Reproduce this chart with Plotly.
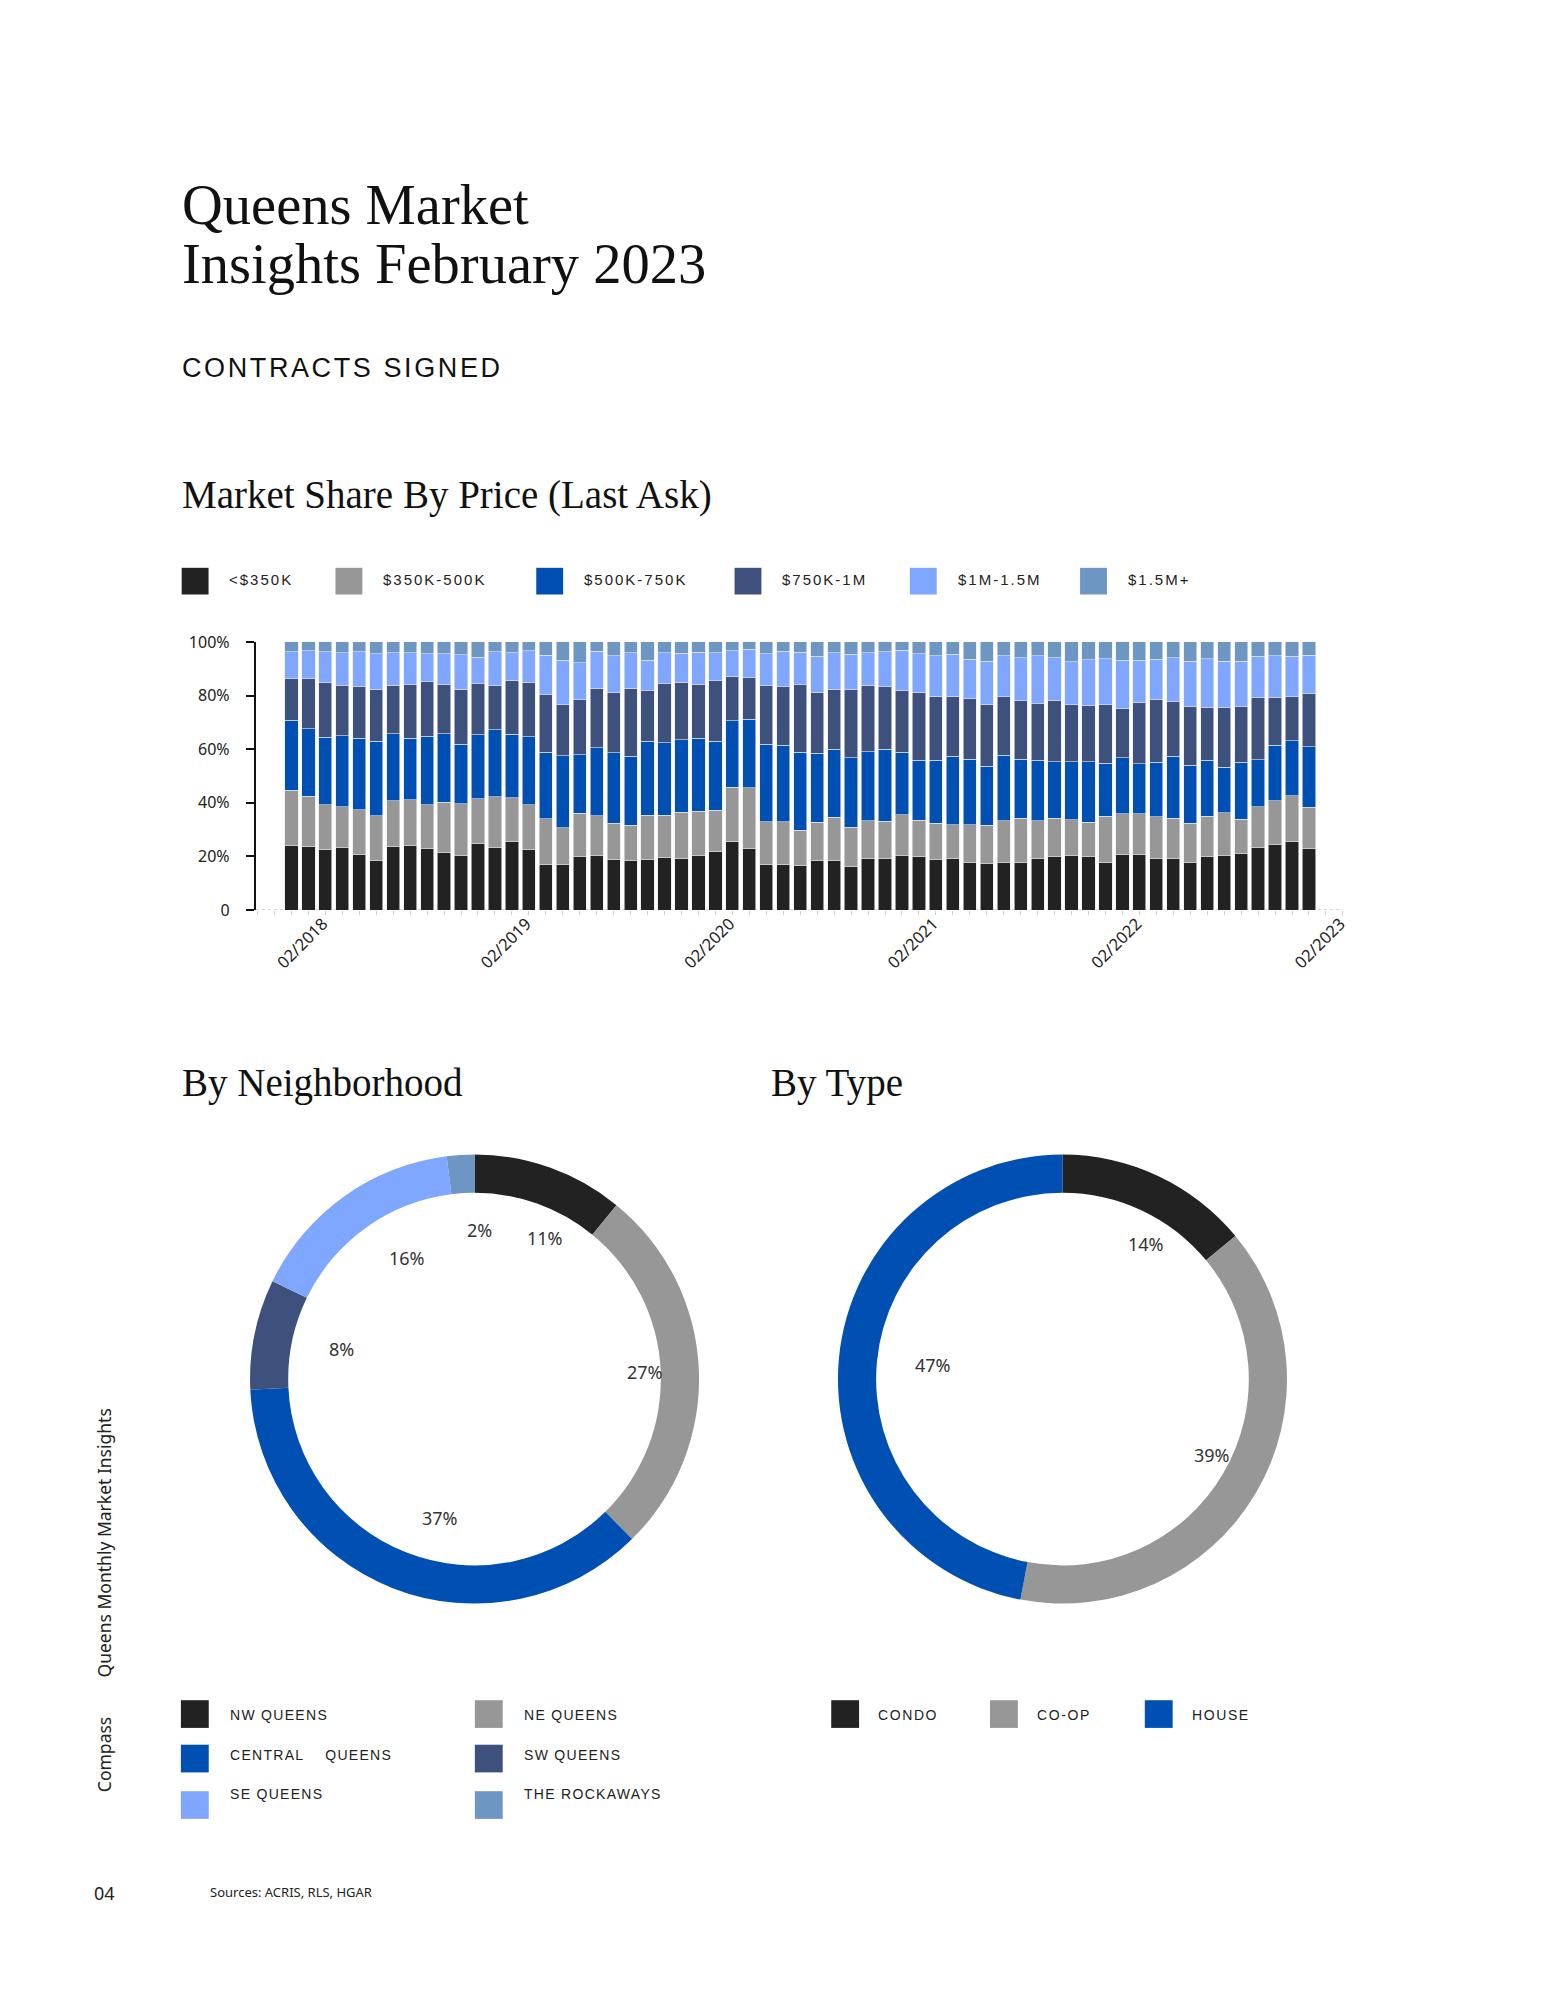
import math
import plotly.graph_objects as go

# ---------------- DATA ----------------
price_labels = ["<$350K", "$350K-500K", "$500K-750K", "$750K-1M", "$1M-1.5M", "$1.5M+"]
price_colors = ["#222222", "#979797", "#004fb3", "#3e517c", "#7fa7ff", "#6d96c3"]

# Monthly share (%) Feb 2018 .. Feb 2023 (61 months)
under_350k = [24.1, 23.8, 22.6, 23.3, 20.8, 18.3, 23.8, 24.1, 23.0, 21.5, 20.4, 24.9, 23.3, 25.6, 22.6,
              17.1, 17.1, 19.8, 20.4, 18.7, 18.3, 18.8, 19.7, 19.1, 20.5, 22.0, 25.6, 23.0, 16.8, 17.0,
              16.6, 18.3, 18.6, 16.2, 19.1, 19.4, 20.2, 19.8, 18.7, 19.1, 17.6, 17.3, 17.9, 17.9, 19.4,
              20.0, 20.5, 19.8, 17.8, 20.8, 20.8, 19.1, 19.1, 17.8, 19.8, 20.5, 21.0, 23.4, 24.3, 25.4, 22.8]
k350_500 = [20.5, 18.7, 16.6, 15.3, 16.6, 16.8, 16.9, 17.1, 16.2, 18.7, 19.3, 16.6, 19.0, 16.2, 16.6,
            16.9, 13.6, 16.3, 14.7, 13.6, 13.3, 16.5, 15.7, 17.3, 16.3, 15.3, 20.2, 22.7, 16.2, 16.0,
            13.2, 14.4, 16.1, 14.7, 14.2, 13.8, 15.3, 13.6, 13.7, 12.8, 14.3, 14.3, 15.4, 16.3, 13.9,
            14.2, 13.2, 13.0, 17.1, 15.2, 15.2, 15.7, 15.1, 14.5, 15.1, 15.8, 12.8, 15.1, 16.5, 17.3, 15.6]
k500_750 = [26.2, 25.1, 25.2, 26.5, 26.6, 27.8, 25.1, 22.8, 25.7, 25.5, 22.2, 23.8, 24.9, 23.7, 25.5,
            24.8, 26.8, 21.9, 25.5, 26.4, 25.8, 27.6, 27.0, 27.2, 27.3, 25.7, 24.9, 25.5, 28.8, 28.5,
            29.0, 25.7, 25.2, 26.0, 25.7, 26.7, 23.4, 22.4, 23.4, 25.5, 24.3, 22.0, 24.4, 22.0, 22.6,
            21.2, 21.7, 22.6, 19.9, 20.9, 18.5, 20.3, 23.1, 21.7, 20.9, 17.0, 21.4, 17.6, 20.7, 20.5, 22.6]
k750_1m = [15.5, 18.9, 20.4, 18.8, 19.4, 19.5, 18.0, 20.0, 20.2, 18.3, 20.5, 19.1, 16.5, 20.3, 20.3,
           21.6, 19.1, 20.5, 22.2, 22.6, 25.3, 18.9, 22.0, 21.4, 20.1, 22.5, 16.3, 15.4, 21.9, 21.8,
           25.2, 22.9, 22.5, 25.2, 24.9, 23.4, 22.9, 25.4, 23.9, 22.4, 22.6, 23.1, 21.8, 21.9, 21.1,
           22.9, 21.1, 20.8, 21.8, 18.2, 23.0, 23.6, 20.4, 22.1, 19.9, 22.1, 20.7, 23.1, 17.8, 16.4, 19.9]
m1_15 = [10.1, 10.3, 11.6, 12.1, 13.0, 13.3, 12.2, 12.0, 10.6, 11.7, 12.9, 9.9, 12.7, 10.2, 11.8,
         14.6, 16.5, 13.8, 13.7, 13.5, 13.3, 11.3, 11.5, 10.8, 12.0, 10.5, 9.8, 10.7, 12.0, 13.2,
         12.2, 13.4, 13.5, 13.3, 12.0, 13.1, 15.1, 14.5, 15.1, 15.6, 14.8, 16.1, 15.3, 16.1, 17.9,
         15.9, 16.2, 17.2, 17.2, 18.0, 15.6, 14.9, 16.5, 16.7, 18.1, 17.4, 16.9, 15.5, 15.6, 15.0, 14.1]
m15_plus = [3.6, 3.2, 3.6, 4.0, 3.6, 4.3, 4.0, 4.0, 4.3, 4.3, 4.7, 5.7, 3.6, 4.0, 3.2,
            5.0, 6.9, 7.7, 3.5, 5.2, 4.0, 6.9, 4.1, 4.2, 3.8, 4.0, 3.2, 2.7, 4.3, 3.5,
            3.8, 5.3, 4.1, 4.6, 4.1, 3.6, 3.1, 4.3, 5.2, 4.6, 6.4, 7.2, 5.2, 5.8, 5.1,
            5.8, 7.3, 6.6, 6.2, 6.9, 6.9, 6.4, 5.8, 7.2, 6.2, 7.2, 7.2, 5.3, 5.1, 5.4, 5.0]
price_series = [under_350k, k350_500, k500_750, k750_1m, m1_15, m15_plus]

x_tick_labels = ["02/2018", "02/2019", "02/2020", "02/2021", "02/2022", "02/2023"]
y_tick_vals = [0, 20, 40, 60, 80, 100]
y_tick_text = ["0", "20%", "40%", "60%", "80%", "100%"]

hood_labels = ["NW QUEENS", "NE QUEENS", "CENTRAL QUEENS", "SW QUEENS", "SE QUEENS", "THE ROCKAWAYS"]
hood_values = [11, 27, 37, 8, 16, 2]
hood_colors = ["#222222", "#979797", "#004fb3", "#3e517c", "#7fa7ff", "#6d96c3"]

type_labels = ["CONDO", "CO-OP", "HOUSE"]
type_values = [14, 39, 47]
type_colors = ["#222222", "#979797", "#004fb3"]

# ---------------- LAYOUT HELPERS ----------------
W, H = 1545, 2000
def px(x):
    return x / W
def py(y):
    return 1 - y / H

SERIF = "Liberation Serif, Times New Roman, serif"
SANS = "Noto Sans, Open Sans, DejaVu Sans, sans-serif"
LSANS = "Liberation Sans, Arial, sans-serif"

fig = go.Figure()

n = len(under_350k)
months = list(range(n))
for name, vals, col in zip(price_labels, price_series, price_colors):
    fig.add_trace(go.Bar(x=months, y=vals, name=name,
                         marker=dict(color=col, line=dict(color="#e8e8e8", width=0.6)),
                         showlegend=False, xaxis="x", yaxis="y"))

# donuts
d1 = (476.7, 1383.3)
d2 = (1067.3, 1383.3)
R = 227
for (cx, cy), labels, vals, cols in [(d1, hood_labels, hood_values, hood_colors),
                                     (d2, type_labels, type_values, type_colors)]:
    fig.add_trace(go.Pie(labels=labels, values=vals, marker=dict(colors=cols, line=dict(width=0)),
                         hole=0.83, sort=False, direction="clockwise", rotation=0,
                         textinfo="none", showlegend=False,
                         domain=dict(x=[px(cx - R), px(cx + R)], y=[py(cy + R), py(cy - R)])))

annotations = []
shapes = []

def text(x, y, s, size, family, color="#111111", xanchor="left", spacing=None, angle=0):
    if spacing is not None:
        s = '<span style="letter-spacing:%spx">%s</span>' % (spacing, s)
    annotations.append(dict(x=px(x), y=py(y), xref="paper", yref="paper", text=s, showarrow=False,
                            xanchor=xanchor, yanchor="middle", textangle=angle,
                            font=dict(size=size, family=family, color=color)))

# titles
text(181, 196, "Queens Market", 56.5, SERIF)
text(181, 256, "Insights February 2023", 56.5, SERIF)
text(181, 361, "CONTRACTS SIGNED", 27, LSANS, spacing=2.6)
text(181, 489, "Market Share By Price (Last Ask)", 39, SERIF)
text(181, 1084, "By Neighborhood", 39, SERIF)
text(772, 1084, "By Type", 39, SERIF)

# price legend
leg_sq_x = [182.5, 337, 538.7, 737.9, 914, 1085]
for i, (lab, col) in enumerate(zip(price_labels, price_colors)):
    x0 = leg_sq_x[i]
    shapes.append(dict(type="rect", xref="paper", yref="paper", x0=px(x0), x1=px(x0 + 27),
                       y0=py(590), y1=py(563), fillcolor=col, line=dict(width=0)))
    text(x0 + 46, 575, lab, 15, LSANS, color="#222222", spacing=2)

# donut labels, left-anchored inside the hole at each slice's mid-angle
for (cx, cy), vals in [(d1, hood_values), (d2, type_values)]:
    tot = sum(vals)
    cum = 0
    for v in vals:
        mid = (cum + v / 2) / tot * 2 * math.pi
        cum += v
        r = 0.665 * R
        text(cx + r * math.sin(mid), cy - r * math.cos(mid), "%d%%" % v, 18, SANS, color="#333333")

# neighbourhood legend
hood_pos = [(181.7, 1708, 1723), (477, 1708, 1723), (181.7, 1753, 1763),
            (477, 1753, 1763), (181.7, 1800, 1803), (477, 1800, 1803)]
for (x0, y0, ty), i in zip(hood_pos, range(len(hood_labels))):
    shapes.append(dict(type="rect", xref="paper", yref="paper", x0=px(x0), x1=px(x0 + 28),
                       y0=py(y0 + 28), y1=py(y0), fillcolor=hood_colors[i], line=dict(width=0)))
    lab = hood_labels[i].replace("CENTRAL QUEENS", "CENTRAL\u00a0\u00a0\u00a0 QUEENS")
    text(x0 + 47, ty, lab, 14, LSANS, color="#222222", spacing=1.3)

# type legend
type_sq_x = [835, 994.5, 1150]
for x0, lab, col in zip(type_sq_x, type_labels, type_colors):
    shapes.append(dict(type="rect", xref="paper", yref="paper", x0=px(x0), x1=px(x0 + 28),
                       y0=py(1736), y1=py(1708), fillcolor=col, line=dict(width=0)))
    text(x0 + 45, 1723, lab, 14, LSANS, color="#222222", spacing=1.6)

# side / footer text
text(104, 1549, "Queens Monthly Market Insights", 17.5, SANS, color="#222222", xanchor="center", angle=-90)
text(104, 1763, "Compass", 17.5, SANS, color="#222222", xanchor="center", angle=-90)
text(92, 1903, "04", 18, SANS, color="#222222")
text(209, 1902, "Sources: ACRIS, RLS, HGAR", 13, SANS, color="#222222")

# dotted baseline of bar chart
shapes.append(dict(type="line", xref="x domain", yref="y", x0=0, x1=1, y0=0, y1=0,
                   line=dict(color="#c8c8c8", width=1.5, dash="dot"), layer="below"))

fig.update_layout(
    width=W, height=H, margin=dict(l=0, r=0, t=0, b=0),
    paper_bgcolor="white", plot_bgcolor="white",
    barmode="stack", bargap=0.22,
    xaxis=dict(domain=[px(257), px(1349)], range=[-2.1, 62.0], showgrid=False, zeroline=False,
               showline=False, tickmode="array",
               tickvals=[i * 12 + 1.85 for i in range(len(x_tick_labels))],
               ticktext=x_tick_labels, tickangle=-45, ticks="", ticklen=0,
               tickfont=dict(family=SANS, size=16.5, color="#222222"),
               minor=dict(ticks="outside", ticklen=4, tickwidth=1, tickcolor="#cfcfcf", dtick=1, tick0=0,
                          showgrid=False)),
    yaxis=dict(domain=[py(909), py(638)], range=[0, 100], showgrid=False, zeroline=False,
               showline=True, linecolor="#111111", linewidth=2, ticks="outside", ticklen=8, tickwidth=2,
               tickcolor="#111111", tickmode="array", tickvals=y_tick_vals, ticktext=y_tick_text,
               ticklabelstandoff=13, tickfont=dict(family=SANS, size=16, color="#222222")),
    annotations=annotations, shapes=shapes,
)

fig.write_html("out.html", config={"displayModeBar": False},
               post_script="document.body.style.margin='0';")
